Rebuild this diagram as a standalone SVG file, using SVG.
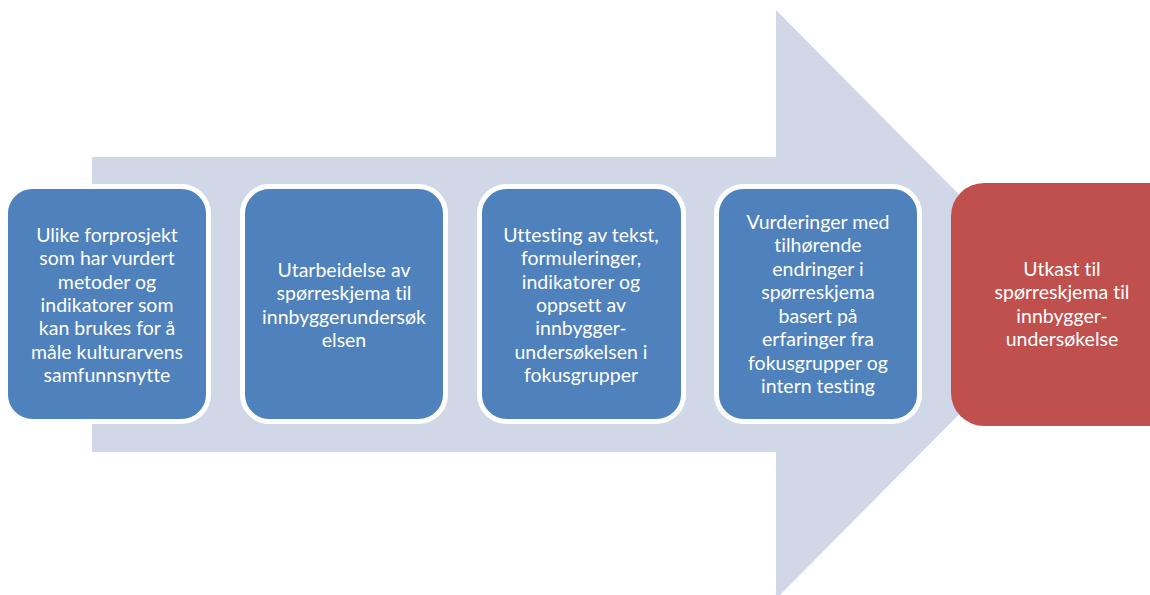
<svg xmlns="http://www.w3.org/2000/svg" width="1150" height="595" viewBox="0 0 1150 595">
<style>
.bg{fill:#fff}
.arrow{fill:#d0d8e8}
.blue{fill:#4f81bd;stroke:#fff;stroke-width:5}
.red{fill:#c0504d}
.t{font-family:Lato,"Open Sans","Liberation Sans",sans-serif;font-size:19.5px;fill:#fff;text-anchor:middle;font-variant-ligatures:none}
</style>
<rect class="bg" x="0" y="0" width="1150" height="595"/>
<g id="connectors">
<path class="arrow" d="M92,157 L776,157 L776,10 L1068,304.5 L776,599 L776,452 L92,452 Z"/>
</g>
<g id="n1">
<rect class="blue" x="5.5" y="186.5" width="203" height="235" rx="27"/>
<text class="t"><tspan x="107" y="242">Ulike forprosjekt</tspan><tspan x="107" y="265.3">som har vurdert</tspan><tspan x="107" y="288.6">metoder og</tspan><tspan x="107" y="311.9">indikatorer som</tspan><tspan x="107" y="335.2">kan brukes for å</tspan><tspan x="107" y="358.5">måle kulturarvens</tspan><tspan x="107" y="381.8">samfunnsnytte</tspan></text>
</g>
<g id="n2">
<rect class="blue" x="242.5" y="186.5" width="203" height="235" rx="27"/>
<text class="t"><tspan x="344" y="277">Utarbeidelse av</tspan><tspan x="344" y="300.3">spørreskjema til</tspan><tspan x="344" y="323.6">innbyggerundersøk</tspan><tspan x="344" y="346.9">elsen</tspan></text>
</g>
<g id="n3">
<rect class="blue" x="479.5" y="186.5" width="204" height="235" rx="27"/>
<text class="t"><tspan x="581" y="242">Uttesting av tekst,</tspan><tspan x="581" y="265.3">formuleringer,</tspan><tspan x="581" y="288.6">indikatorer og</tspan><tspan x="581" y="311.9">oppsett av</tspan><tspan x="581" y="335.2">innbygger-</tspan><tspan x="581" y="358.5">undersøkelsen i</tspan><tspan x="581" y="381.8">fokusgrupper</tspan></text>
</g>
<g id="n4">
<rect class="blue" x="716.5" y="186.5" width="203" height="235" rx="27"/>
<text class="t"><tspan x="818" y="228.5">Vurderinger med</tspan><tspan x="818" y="252">tilhørende</tspan><tspan x="818" y="275.5">endringer i</tspan><tspan x="818" y="299">spørreskjema</tspan><tspan x="818" y="322.5">basert på</tspan><tspan x="818" y="346">erfaringer fra</tspan><tspan x="818" y="369.5">fokusgrupper og</tspan><tspan x="818" y="393">intern testing</tspan></text>
</g>
<g id="n5">
<rect class="red" x="951" y="183" width="240" height="243" rx="33"/>
<text class="t"><tspan x="1062" y="276">Utkast til</tspan><tspan x="1062" y="299.3">spørreskjema til</tspan><tspan x="1062" y="322.6">innbygger-</tspan><tspan x="1062" y="345.9">undersøkelse</tspan></text>
</g>
</svg>
